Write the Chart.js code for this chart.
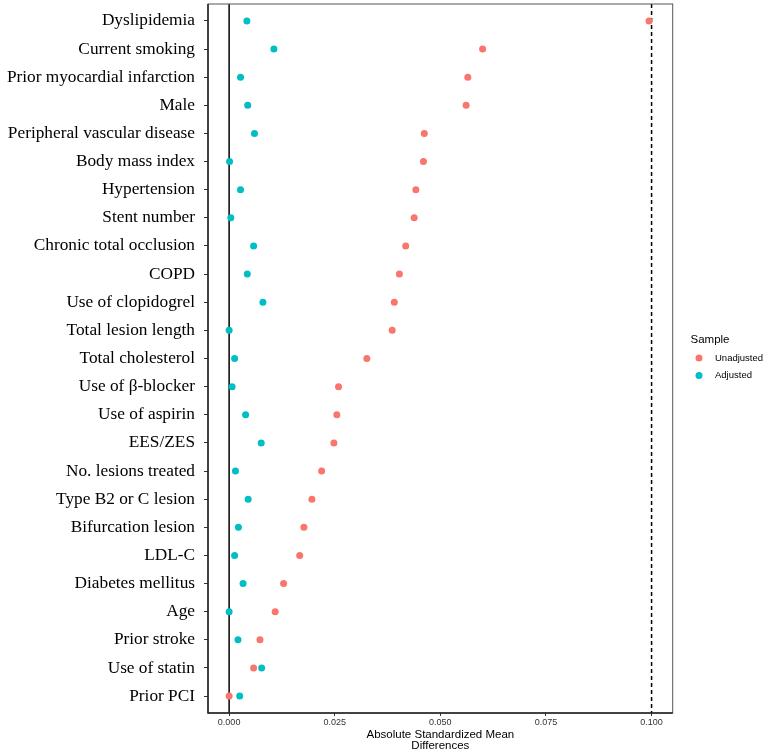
<!DOCTYPE html>
<html>
<head>
<meta charset="utf-8">
<script src="https://cdn.jsdelivr.net/npm/chart.js@4/dist/chart.umd.min.js"></script>
<style>
html,body{margin:0;padding:0;background:#fff;}
#wrap{width:765px;height:752px;position:relative;}
</style>
</head>
<body>
<div id="wrap"><canvas id="c"></canvas></div>
<script>
const categories = [
  "Dyslipidemia","Current smoking","Prior myocardial infarction","Male",
  "Peripheral vascular disease","Body mass index","Hypertension","Stent number",
  "Chronic total occlusion","COPD","Use of clopidogrel","Total lesion length",
  "Total cholesterol","Use of β-blocker","Use of aspirin","EES/ZES",
  "No. lesions treated","Type B2 or C lesion","Bifurcation lesion","LDL-C",
  "Diabetes mellitus","Age","Prior stroke","Use of statin","Prior PCI"
];
const unadjusted = [
  0.0994,0.0600,0.0565,0.0561,
  0.0462,0.0460,0.0442,0.0438,
  0.0418,0.0403,0.0391,0.0386,
  0.0326,0.0259,0.0255,0.0248,
  0.0219,0.0196,0.0177,0.0167,
  0.0129,0.0109,0.0073,0.0058,0.0000
];
const adjusted = [
  0.0042,0.0106,0.0027,0.0044,
  0.0060,0.0001,0.0027,0.0004,
  0.0058,0.0043,0.0080,0.0000,
  0.0013,0.0007,0.0039,0.0076,
  0.0015,0.0045,0.0022,0.0013,
  0.0033,0.0000,0.0021,0.0077,0.0025
];
const xTicks = [0, 0.025, 0.05, 0.075, 0.1];
const seriesNames = ["Unadjusted","Adjusted"];
const legendTitle = "Sample";
const xTitle = ["Absolute Standardized Mean","Differences"];
const refZero = 0;
const refThreshold = 0.1;

const RED = "#F8766D", CYAN = "#00BFC4";
const SANS = "'Liberation Sans', Arial, sans-serif";
const SERIF = "'Liberation Serif', 'Times New Roman', serif";

const framePlugin = {
  id: 'frame',
  beforeDatasetsDraw(chart) {
    const {ctx, chartArea: a, scales: {x}} = chart;
    ctx.save();
    const x0 = x.getPixelForValue(refZero);
    ctx.strokeStyle = '#000';
    ctx.lineWidth = 1.5;
    ctx.beginPath(); ctx.moveTo(x0, a.top); ctx.lineTo(x0, a.bottom); ctx.stroke();
    const x1 = x.getPixelForValue(refThreshold);
    ctx.setLineDash([4, 3]);
    ctx.beginPath(); ctx.moveTo(x1, a.top); ctx.lineTo(x1, a.bottom); ctx.stroke();
    ctx.restore();
  },
  afterDraw(chart) {
    const {ctx, chartArea: a} = chart;
    ctx.save();
    ctx.strokeStyle = '#555';
    ctx.lineWidth = 1;
    ctx.strokeRect(a.left, a.top, a.right - a.left, a.bottom - a.top);
    ctx.strokeStyle = '#222';
    ctx.lineWidth = 1.5;
    ctx.beginPath();
    ctx.moveTo(a.left, a.top); ctx.lineTo(a.left, a.bottom); ctx.lineTo(a.right, a.bottom);
    ctx.stroke();
    const cy = (a.top + a.bottom) / 2;
    ctx.fillStyle = '#000';
    ctx.textBaseline = 'middle';
    ctx.textAlign = 'left';
    ctx.font = "11.5px " + SANS;
    ctx.fillText(legendTitle, 690.5, cy - 19);
    ctx.font = "9.5px " + SANS;
    const cols = [RED, CYAN];
    chart.data.datasets.forEach((ds, i) => {
      const yy = cy - 0.5 + i * 17.5;
      ctx.fillStyle = cols[i];
      ctx.beginPath(); ctx.arc(699, yy, 3.5, 0, Math.PI * 2); ctx.fill();
      ctx.fillStyle = '#000';
      ctx.fillText(ds.label, 715, yy);
    });
    ctx.restore();
  }
};

new Chart(document.getElementById('c'), {
  type: 'scatter',
  data: {
    datasets: [
      { label: seriesNames[0], data: unadjusted.map((v, i) => ({x: v, y: i + 1})),
        backgroundColor: RED, borderColor: RED, pointRadius: 3.5, borderWidth: 0 },
      { label: seriesNames[1], data: adjusted.map((v, i) => ({x: v, y: i + 1})),
        backgroundColor: CYAN, borderColor: CYAN, pointRadius: 3.5, borderWidth: 0 }
    ]
  },
  options: {
    responsive: true,
    maintainAspectRatio: false,
    animation: false,
    layout: { padding: { left: 0, right: 92.3, top: 3, bottom: 0 } },
    plugins: { legend: { display: false }, tooltip: { enabled: false } },
    scales: {
      x: {
        type: 'linear', min: -0.005, max: 0.105,
        afterBuildTicks(s) { s.ticks = xTicks.map(v => ({value: v})); },
        afterFit(s) { s.height = 39; s.paddingLeft = 0; s.paddingRight = 0; },
        grid: { display: true, drawOnChartArea: false, drawTicks: true, tickLength: 3, color: '#333', lineWidth: 1 },
        border: { display: false },
        ticks: { callback: v => Number(v).toFixed(3), font: { family: SANS, size: 9 }, color: '#333', padding: 1, maxRotation: 0 },
        title: { display: true, text: xTitle, font: { family: SANS, size: 11.5, lineHeight: 1 }, color: '#000', padding: { top: 0, bottom: 0 } }
      },
      y: {
        type: 'linear', reverse: true, min: 0.4, max: 25.6,
        afterBuildTicks(s) { s.ticks = categories.map((c, i) => ({value: i + 1})); },
        afterFit(s) { s.width = 208; s.paddingTop = 0; s.paddingBottom = 0; },
        grid: { display: true, drawOnChartArea: false, drawTicks: true, tickLength: 4, color: '#333', lineWidth: 1 },
        border: { display: false },
        ticks: { autoSkip: false, callback: v => categories[Math.round(v) - 1], font: { family: SERIF, size: 17.3 }, color: '#000', padding: 9 }
      }
    }
  },
  plugins: [framePlugin]
});
</script>
</body>
</html>
